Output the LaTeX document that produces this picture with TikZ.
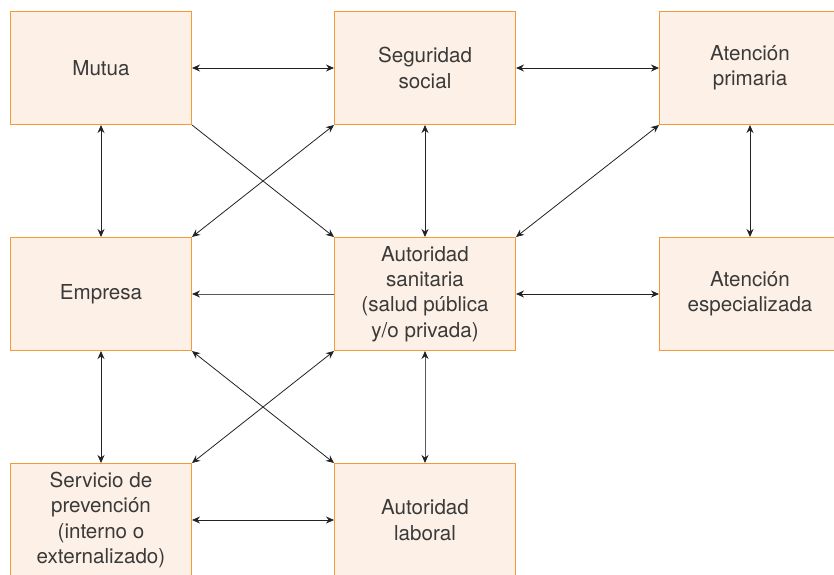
\documentclass[tikz,border=0pt]{standalone}
\usepackage{fontspec}
\setmainfont{TeX Gyre Heros}
\usetikzlibrary{arrows.meta}
\definecolor{boxfill}{HTML}{FDF1E7}
\definecolor{boxline}{HTML}{F39A3A}
\definecolor{txt}{HTML}{3A3A3A}
\definecolor{arr}{HTML}{222222}
\definecolor{arrgray}{HTML}{5A5A5A}
\begin{document}
\begin{tikzpicture}[x=1pt,y=-1pt,
 box/.style={draw=boxline, fill=boxfill, line width=1pt, minimum width=181pt, minimum height=113pt, anchor=north west, align=center, text=txt, font=\fontsize{20.6}{25.3}\selectfont, inner sep=0pt},
 link/.style={draw=arr, line width=0.8pt, {Stealth[length=8pt,width=7pt,color=arr]}-{Stealth[length=8pt,width=7pt,color=arr]}},
 one/.style={draw=arr, line width=0.8pt, -{Stealth[length=8pt,width=7pt,color=arr]}}]
\useasboundingbox (0,0) rectangle (834,574);
\node[box] (mutua) at (10,11) {Mutua};
\node[box] (seg) at (334,11) {Seguridad\\social};
\node[box] (prim) at (659,11) {Atención\\primaria};
\node[box] (emp) at (10,237) {Empresa};
\node[box] (san) at (334,237) {Autoridad\\sanitaria\\(salud pública\\y/o privada)};
\node[box] (esp) at (659,237) {Atención\\especializada};
\node[box] (serv) at (10,463) {Servicio de\\prevención\\(interno o\\externalizado)};
\node[box] (lab) at (334,463) {Autoridad\\laboral};
\draw[link] (mutua.east) -- (seg.west);
\draw[link] (seg.east) -- (prim.west);
\draw[link] (mutua.south) -- (emp.north);
\draw[one] (mutua.south east) -- (san.north west);
\draw[link] (seg.south west) -- (emp.north east);
\draw[link] (seg.south) -- (san.north);
\draw[link] (prim.south west) -- (san.north east);
\draw[link] (prim.south) -- (esp.north);
\draw[one, draw=arrgray, line width=1pt] (san.west) -- (emp.east);
\draw[link] (san.east) -- (esp.west);
\draw[link] (emp.south) -- (serv.north);
\draw[link] (emp.south east) -- (lab.north west);
\draw[link] (san.south west) -- (serv.north east);
\draw[link, draw=arrgray, line width=1pt] (san.south) -- (lab.north);
\draw[link] (serv.east) -- (lab.west);
\end{tikzpicture}
\end{document}
